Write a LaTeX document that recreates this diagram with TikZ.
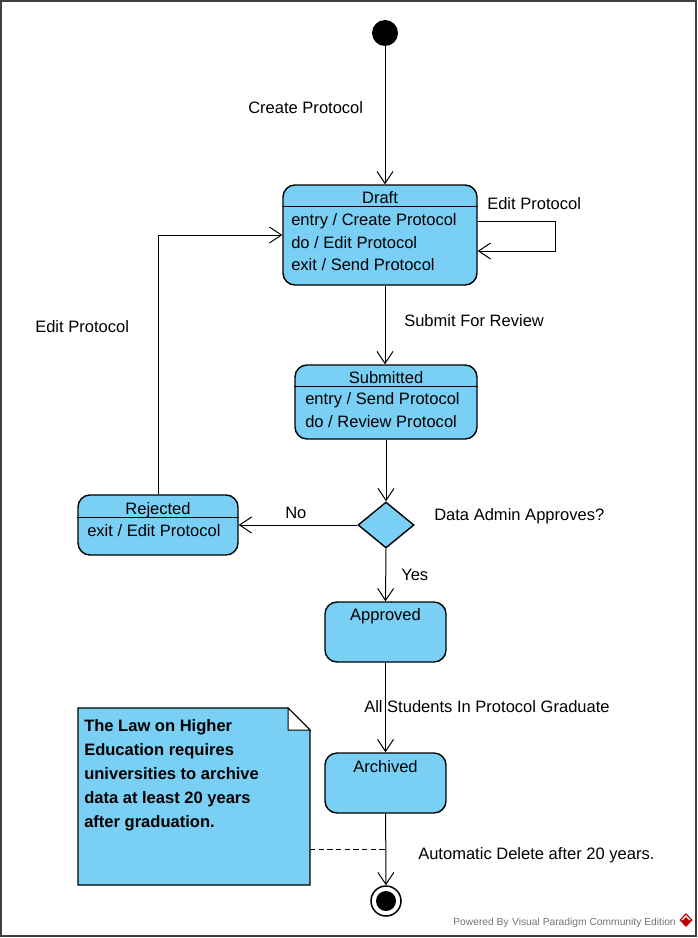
\documentclass[tikz,border=0pt]{standalone}
\usepackage{fontspec}
\setmainfont{Liberation Sans}
\usetikzlibrary{calc}
\usetikzlibrary{arrows.meta}
\usetikzlibrary{shapes.geometric}
\definecolor{vpblue}{RGB}{122,207,245}
\newcommand{\px}{0.75pt} % one pixel of the drawing
\tikzstyle{state}=[draw,fill=vpblue,rounded corners=12*\px,line width=1.4*\px,inner sep=0pt]
\tikzstyle{trans}=[-{Straight Barb[length=9pt,width=12pt]},line width=\px]
\tikzstyle{row}=[anchor=base west,inner sep=0pt]
\tikzstyle{title}=[anchor=base,inner sep=0pt]
\newcommand{\header}[2]{% Syntax: {state node}{pixels below the top}
  \draw[line width=\px] ($(#1.north west)+(0,#2)$) -- ($(#1.north east)+(0,#2)$);
}

\begin{document}
\begin{tikzpicture}[x=0.75pt,y=-0.75pt,font=\fontsize{12.4}{14}\selectfont]
  \useasboundingbox (0,0) rectangle (698,938);
  \draw[line width=1.5*\px,black!75] (1,1) rectangle (696,936);
  % states
  \node[circle,fill=black,minimum size=26*\px,inner sep=0pt] (init) at (385,33) {};
  \node[state,minimum width=194*\px,minimum height=100*\px] (draft) at (380,235) {};
  \header{draft}{22}
  \node[title] (drafttitle) at (380,203) {Draft};
  \node[row] (draftentry) at (291,225) {entry / Create Protocol};
  \node[row] (draftdo) at (291,248) {do / Edit Protocol};
  \node[row] (draftexit) at (291,270) {exit / Send Protocol};
  \node[state,minimum width=182*\px,minimum height=74*\px] (sub) at (386,402) {};
  \header{sub}{22}
  \node[title] (subtitle) at (386,383) {Submitted};
  \node[row] (subentry) at (305,404) {entry / Send Protocol};
  \node[row] (subdo) at (305,427) {do / Review Protocol};
  \node[diamond,draw,fill=vpblue,line width=1.4*\px,inner sep=0pt,
        minimum width=56*\px,minimum height=46*\px] (dec) at (386,525) {};
  \node[state,minimum width=160*\px,minimum height=60*\px] (rej) at (158,525) {};
  \header{rej}{23}
  \node[title] (rejtitle) at (158,514) {Rejected};
  \node[row] (rejexit) at (87,536) {exit / Edit Protocol};
  \node[state,minimum width=121*\px,minimum height=60*\px] (appr) at (385.5,632) {};
  \node[title] (apprtitle) at (385.5,620) {Approved};
  \node[state,minimum width=121*\px,minimum height=60*\px] (arch) at (385.5,783) {};
  \node[title] (archtitle) at (385.5,772) {Archived};
  \node[circle,draw,fill=white,line width=1.5*\px,minimum size=30*\px,inner sep=0pt] (fin) at (386,901) {};
  \node[circle,fill=black,minimum size=20*\px,inner sep=0pt] (fincore) at (fin) {};
  % transitions
  \draw[trans] (init) -- (init |- draft.north);
  \draw[trans] (init |- draft.south) -- (init |- sub.north);
  \draw[trans] ($(draft.east)+(0,-14)$) -- ++(78,0) -- ++(0,30) -- ++(-78,0);
  \draw[trans] (sub.south) -- (dec.north);
  \draw[trans] (dec.west) -- (rej.east);
  \draw[trans] (dec.south) -- (appr.north);
  \draw[trans] (rej.north) |- (draft.west);
  \draw[trans] (appr) -- (arch);
  \draw[trans] (arch) -- (fin);
  % transition labels
  \node[row] (lcreate) at (248,114) {Create Protocol};
  \node[row] (leditself) at (487,209) {Edit Protocol};
  \node[row] (lsubmit) at (404,326) {Submit For Review};
  \node[row] (leditback) at (35,332) {Edit Protocol};
  \node[row] (lguard) at (434,520) {Data Admin Approves?};
  \node[row] (lno) at (285,518) {No};
  \node[row] (lyes) at (401,580) {Yes};
  \node[row] (lgrad) at (364,712) {All Students In Protocol Graduate};
  \node[row] (ldelete) at (418,859) {Automatic Delete after 20 years.};
  % note
  \draw[fill=vpblue,line width=1.4*\px] (78,708) -- (288,708) -- (310,730) -- (310,885) -- (78,885) -- cycle;
  \draw[fill=white,line width=\px] (288,708) -- (288,730) -- (310,730) -- cycle;
  \node[anchor=base west,inner sep=0pt,align=left,font=\bfseries\fontsize{12.4}{17.9}\selectfont] (note) at (84,827.3)
    {The Law on Higher\\Education requires\\universities to archive\\data at least 20 years\\after graduation.};
  \coordinate (noteend) at (310,849);
  \draw[dash pattern=on 4pt off 2.5pt,line width=\px] (noteend) -- (noteend -| fin);
  % watermark
  \node[anchor=base east,inner sep=0pt,text=black!55,font=\fontsize{7.7}{9}\selectfont] (powered) at (676,925)
    {Powered By\,\,Visual Paradigm Community Edition};
  \fill[red!75!black] (686,913) -- (692.5,920) -- (686,927) -- (679.5,920) -- cycle;
  \draw[white,line width=1.2*\px] (682,920) -- (686,916) -- (690,920);
\end{tikzpicture}
\end{document}
